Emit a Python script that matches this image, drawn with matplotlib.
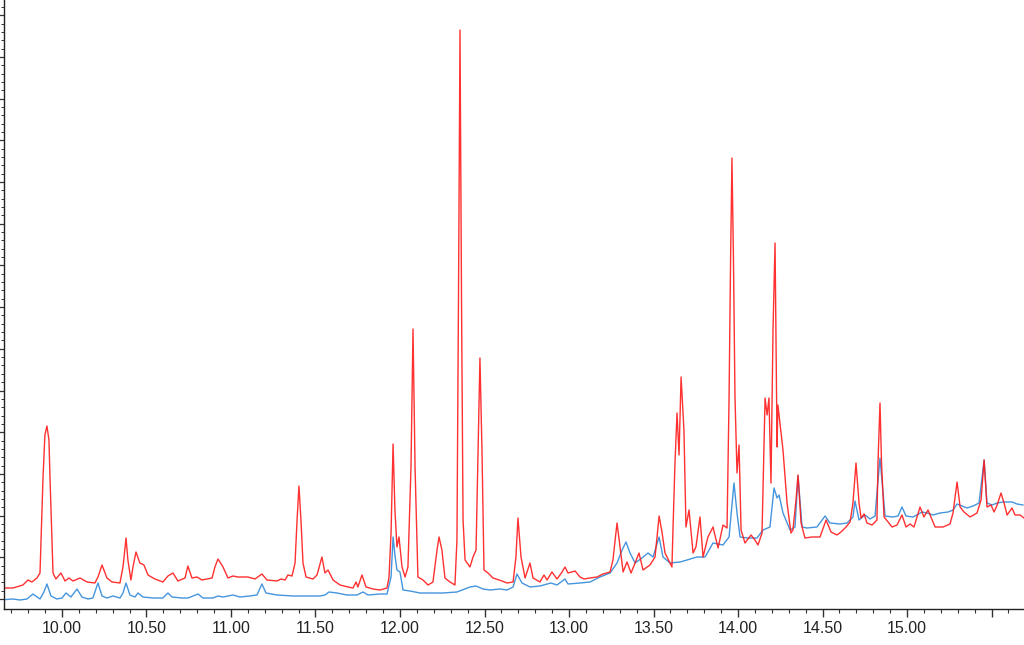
import numpy as np
import matplotlib
matplotlib.use("Agg")
import matplotlib.pyplot as plt
from matplotlib.ticker import FixedLocator, MultipleLocator

# retention time (min) / intensity (arbitrary units)
red_time = [9.633, 9.710, 9.769, 9.799, 9.822, 9.852, 9.870, 9.888, 9.899, 9.911, 9.923, 9.929,
            9.947, 9.964, 9.994, 10.018, 10.041, 10.065, 10.107, 10.148, 10.195, 10.213, 10.237,
            10.266, 10.296, 10.343, 10.361, 10.379, 10.390, 10.408, 10.420, 10.438, 10.461, 10.485,
            10.509, 10.550, 10.597, 10.627, 10.657, 10.686, 10.728, 10.745, 10.769, 10.799, 10.828,
            10.888, 10.905, 10.923, 10.953, 10.982, 11.012, 11.041, 11.100, 11.142, 11.183, 11.213,
            11.272, 11.296, 11.320, 11.337, 11.361, 11.379, 11.391, 11.402, 11.414, 11.426, 11.444,
            11.485, 11.509, 11.538, 11.556, 11.574, 11.604, 11.645, 11.692, 11.722, 11.740, 11.751,
            11.775, 11.799, 11.840, 11.882, 11.923, 11.935, 11.947, 11.959, 11.970, 11.982, 11.994,
            12.012, 12.030, 12.047, 12.065, 12.077, 12.089, 12.106, 12.136, 12.166, 12.195, 12.219,
            12.231, 12.248, 12.266, 12.296, 12.325, 12.337, 12.346, 12.355, 12.364, 12.373, 12.385,
            12.414, 12.432, 12.450, 12.462, 12.473, 12.485, 12.497, 12.521, 12.550, 12.604, 12.633,
            12.669, 12.686, 12.698, 12.716, 12.740, 12.769, 12.787, 12.828, 12.852, 12.870, 12.899,
            12.929, 12.959, 12.976, 12.994, 13.036, 13.065, 13.089, 13.124, 13.166, 13.201, 13.243,
            13.260, 13.284, 13.302, 13.320, 13.343, 13.367, 13.391, 13.414, 13.438, 13.479, 13.509,
            13.533, 13.550, 13.568, 13.580, 13.609, 13.615, 13.627, 13.639, 13.651, 13.663, 13.680,
            13.692, 13.710, 13.734, 13.751, 13.775, 13.793, 13.822, 13.852, 13.882, 13.911, 13.935,
            13.947, 13.956, 13.964, 13.973, 13.982, 13.994, 14.006, 14.018, 14.041, 14.077, 14.100,
            14.118, 14.142, 14.160, 14.172, 14.183, 14.195, 14.207, 14.219, 14.231, 14.236, 14.266,
            14.290, 14.313, 14.325, 14.343, 14.355, 14.373, 14.396, 14.438, 14.485, 14.521, 14.550,
            14.586, 14.609, 14.639, 14.663, 14.680, 14.698, 14.716, 14.728, 14.746, 14.763, 14.793,
            14.822, 14.828, 14.840, 14.849, 14.864, 14.888, 14.911, 14.941, 14.970, 14.994, 15.018,
            15.041, 15.077, 15.100, 15.124, 15.166, 15.213, 15.254, 15.272, 15.296, 15.314, 15.337,
            15.373, 15.414, 15.438, 15.456, 15.473, 15.497, 15.515, 15.533, 15.556, 15.574, 15.592,
            15.621, 15.639, 15.669, 15.692]
red_signal = [21, 21, 24, 29, 27, 31, 36, 132, 174, 183, 169, 132,
              36, 30, 36, 28, 31, 28, 31, 27, 26, 32, 44,
              31, 27, 26, 42, 71, 49, 29, 42, 57, 46, 44,
              34, 30, 27, 33, 36, 28, 31, 43, 31, 32, 29,
              31, 42, 50, 42, 31, 33, 32, 32, 30, 35, 29,
              28, 30, 29, 34, 33, 46, 89, 123, 89, 46, 32,
              30, 34, 52, 36, 39, 29, 24, 22, 21, 27, 22,
              34, 22, 20, 19, 21, 32, 76, 165, 99, 62, 72,
              42, 32, 42, 142, 280, 142, 32, 29, 24, 27, 59,
              72, 59, 31, 27, 24, 69, 309, 579, 309, 89, 49,
              42, 52, 59, 159, 251, 159, 39, 36, 31, 28, 26,
              27, 52, 91, 52, 31, 46, 31, 27, 34, 29, 37,
              30, 37, 42, 36, 38, 32, 30, 31, 32, 35, 37,
              49, 86, 62, 37, 47, 36, 46, 56, 39, 44, 52,
              93, 77, 56, 52, 42, 79, 146, 196, 154, 232, 179,
              82, 99, 56, 62, 92, 52, 72, 82, 61, 84, 81,
              212, 349, 451, 349, 212, 136, 164, 79, 66, 74, 69,
              64, 76, 211, 194, 211, 126, 279, 366, 162, 204, 159,
              106, 76, 79, 109, 134, 86, 71, 72, 72, 89, 77,
              74, 77, 82, 87, 106, 146, 106, 91, 95, 86, 84,
              89, 146, 206, 146, 92, 87, 82, 84, 94, 82, 85,
              82, 102, 92, 99, 82, 82, 85, 96, 127, 102, 97,
              92, 96, 109, 149, 102, 104, 97, 104, 116, 106, 94,
              101, 94, 94, 91]

blue_time = [9.633, 9.710, 9.751, 9.793, 9.828, 9.870, 9.893, 9.911, 9.935, 9.970, 10.000, 10.024,
             10.053, 10.089, 10.118, 10.154, 10.183, 10.213, 10.237, 10.266, 10.302, 10.343, 10.361,
             10.379, 10.402, 10.432, 10.450, 10.479, 10.538, 10.597, 10.627, 10.651, 10.710, 10.746,
             10.805, 10.834, 10.893, 10.923, 10.953, 11.012, 11.053, 11.112, 11.154, 11.183, 11.207,
             11.272, 11.367, 11.467, 11.527, 11.556, 11.580, 11.627, 11.686, 11.746, 11.781, 11.811,
             11.882, 11.923, 11.947, 11.959, 11.970, 11.982, 12.000, 12.018, 12.059, 12.118, 12.160,
             12.254, 12.337, 12.414, 12.450, 12.491, 12.533, 12.592, 12.633, 12.669, 12.692, 12.722,
             12.769, 12.828, 12.893, 12.929, 12.976, 12.994, 13.065, 13.124, 13.183, 13.243, 13.284,
             13.314, 13.337, 13.361, 13.391, 13.432, 13.467, 13.497, 13.533, 13.556, 13.598, 13.657,
             13.698, 13.757, 13.805, 13.852, 13.911, 13.947, 13.976, 13.994, 14.012, 14.053, 14.112,
             14.148, 14.189, 14.213, 14.231, 14.243, 14.266, 14.308, 14.337, 14.355, 14.379, 14.408,
             14.467, 14.515, 14.544, 14.604, 14.645, 14.680, 14.692, 14.716, 14.751, 14.781, 14.811,
             14.822, 14.840, 14.858, 14.870, 14.917, 14.947, 14.970, 14.994, 15.036, 15.089, 15.118,
             15.154, 15.195, 15.243, 15.272, 15.296, 15.325, 15.355, 15.391, 15.426, 15.456, 15.473,
             15.503, 15.533, 15.568, 15.621, 15.651, 15.686]
blue_signal = [9, 10, 9, 10, 15, 10, 17, 25, 13, 10, 11, 16,
               12, 20, 12, 10, 11, 26, 13, 11, 13, 11, 16,
               26, 14, 12, 16, 12, 11, 11, 16, 12, 11, 11,
               15, 11, 11, 13, 12, 14, 12, 13, 14, 25, 16,
               14, 13, 13, 13, 14, 17, 16, 14, 14, 17, 14,
               15, 15, 32, 72, 54, 39, 37, 19, 18, 16, 16,
               16, 17, 22, 23, 20, 19, 20, 19, 22, 35, 26,
               22, 23, 26, 24, 30, 25, 26, 27, 32, 36, 46,
               59, 67, 56, 46, 51, 56, 52, 72, 52, 46, 47,
               49, 52, 52, 66, 64, 72, 126, 96, 72, 71, 71,
               79, 82, 121, 111, 114, 96, 79, 82, 133, 82, 81,
               82, 93, 86, 85, 86, 92, 108, 89, 94, 90, 93,
               116, 151, 116, 93, 92, 93, 102, 93, 92, 97, 96,
               94, 96, 97, 99, 105, 103, 101, 103, 106, 149, 106,
               104, 106, 107, 107, 105, 104]

x_major = [10.0, 10.5, 11.0, 11.5, 12.0, 12.5, 13.0, 13.5, 14.0, 14.5, 15.0, 15.5]
x_labels = ["10.00", "10.50", "11.00", "11.50", "12.00", "12.50", "13.00",
            "13.50", "14.00", "14.50", "15.00", ""]

fig = plt.figure(figsize=(10.24, 6.45), dpi=100)
ax = fig.add_axes([4 / 1024, 36 / 645, 1 - 4 / 1024, 1 - 36 / 645])

ax.plot(blue_time, blue_signal, color="#3b8fdc", linewidth=1.0, alpha=0.95)
ax.plot(red_time, red_signal, color="#ff1a1a", linewidth=1.0, alpha=0.9)

ax.set_xlim(9.657, 15.692)
ax.set_ylim(0, 609)

ax.xaxis.set_major_locator(FixedLocator(x_major))
ax.set_xticklabels(x_labels)
ax.xaxis.set_minor_locator(MultipleLocator(0.1))
ax.yaxis.set_major_locator(FixedLocator(np.arange(10, 609, 41.7)))
ax.yaxis.set_minor_locator(FixedLocator(np.arange(10, 609, 41.7 / 5)))
ax.set_yticklabels([])

for side in ("top", "right"):
    ax.spines[side].set_visible(False)
for side in ("left", "bottom"):
    ax.spines[side].set_color("#222222")
    ax.spines[side].set_linewidth(1.0)

ax.tick_params(axis="x", which="major", length=5.5, width=1.0, color="#333333",
               labelsize=11.5, labelcolor="#222222", pad=3)
ax.tick_params(axis="x", which="minor", length=3, width=0.8, color="#333333")
ax.tick_params(axis="y", which="major", length=3.5, width=0.9, color="#333333")
ax.tick_params(axis="y", which="minor", length=2, width=0.7, color="#333333")
for lbl in ax.get_xticklabels():
    lbl.set_family(["Liberation Sans", "DejaVu Sans"])

fig.savefig("out.png", dpi=100)
